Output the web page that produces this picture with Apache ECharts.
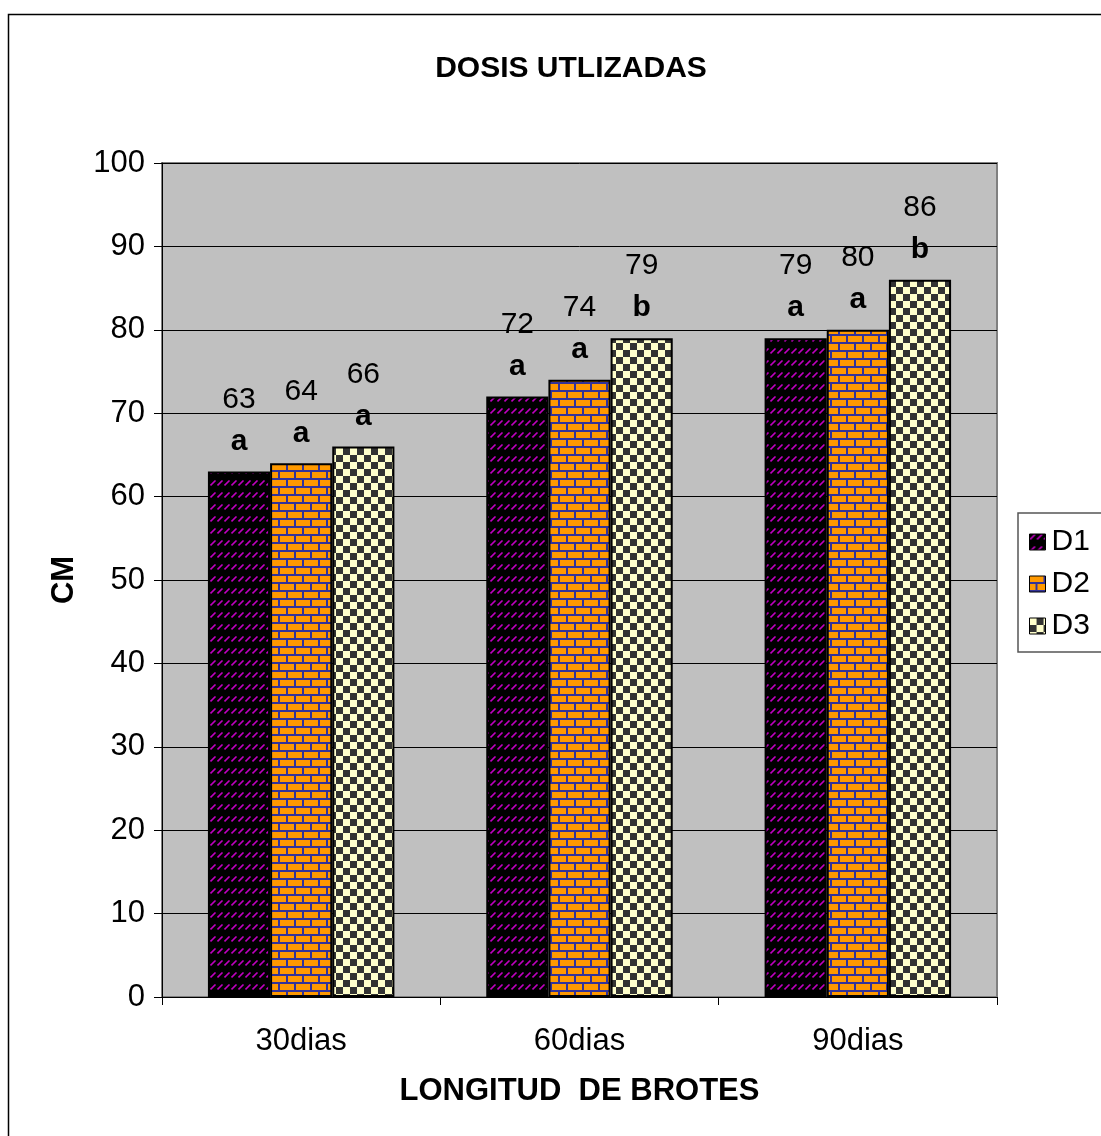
<!DOCTYPE html>
<html>
<head>
<meta charset="utf-8">
<title>DOSIS UTLIZADAS</title>
<script src="https://cdn.jsdelivr.net/npm/echarts@6/dist/echarts.min.js"></script>
<style>
  html, body { margin: 0; padding: 0; background: #ffffff; }
  #chart { width: 1101px; height: 1136px; }
</style>
</head>
<body>
<div id="chart"></div>
<script>
// Sprout length (cm) by dose and days after treatment
const categories = ['30dias', '60dias', '90dias'];
const seriesNames = ['D1', 'D2', 'D3'];
const d1Values = [63, 72, 79];
const d2Values = [64, 74, 80];
const d3Values = [66, 79, 86];
// Significance letters shown under each value
const d1Letters = ['a', 'a', 'a'];
const d2Letters = ['a', 'a', 'a'];
const d3Letters = ['a', 'b', 'b'];
const yTicks = { min: 0, max: 100, interval: 10 };

const FONT = '"Liberation Sans", Arial, sans-serif';

// Fill patterns drawn on small canvases
function makeTile(w, h, draw) {
  const c = document.createElement('canvas');
  c.width = w; c.height = h;
  draw(c.getContext('2d'), w, h);
  return c;
}
const dashTile = makeTile(7, 12, (g, w, h) => {
  g.fillStyle = '#000000';
  g.fillRect(0, 0, w, h);
  g.strokeStyle = '#c000c0';
  g.lineWidth = 1.6;
  g.beginPath();
  g.moveTo(0.5, 5.5);
  g.lineTo(5.5, 0.5);
  g.stroke();
});
const brickTile = makeTile(16, 16, (g, w, h) => {
  g.fillStyle = '#333399';
  g.fillRect(0, 0, w, h);
  g.fillStyle = '#ff9900';
  // upper row
  g.fillRect(0, 0, 14, 6);
  // lower row, offset by half a brick
  g.fillRect(0, 8, 6, 6);
  g.fillRect(8, 8, 8, 6);
});
const checkTile = makeTile(14, 14, (g, w, h) => {
  g.fillStyle = '#ffffcc';
  g.fillRect(0, 0, w, h);
  g.fillStyle = '#333333';
  g.fillRect(7, 0, 7, 7);
  g.fillRect(0, 7, 7, 7);
});
const fills = [
  { image: dashTile, repeat: 'repeat' },
  { image: brickTile, repeat: 'repeat' },
  { image: checkTile, repeat: 'repeat' }
];

const valueSets = [d1Values, d2Values, d3Values];
const letterSets = [d1Letters, d2Letters, d3Letters];

const series = seriesNames.map((name, si) => ({
  name: name,
  type: 'bar',
  barGap: '0%',
  barCategoryGap: '33%',
  data: valueSets[si].map((v, ci) => ({ value: v, letter: letterSets[si][ci] })),
  itemStyle: {
    color: fills[si],
    borderColor: '#000000',
    borderWidth: 2
  },
  label: {
    show: true,
    position: 'top',
    distance: 9,
    formatter: p => '{n|' + p.value + '}\n{l|' + p.data.letter + '}',
    rich: {
      n: { fontFamily: FONT, fontSize: 30, color: '#000000', lineHeight: 42, align: 'center' },
      l: { fontFamily: FONT, fontSize: 30, fontWeight: 'bold', color: '#000000', lineHeight: 42, align: 'center' }
    }
  }
}));

const chart = echarts.init(document.getElementById('chart'), null, { renderer: 'canvas' });
chart.setOption({
  animation: false,
  backgroundColor: '#ffffff',
  title: {
    text: 'DOSIS UTLIZADAS',
    left: 566,
    top: 49,
    textAlign: 'center',
    textStyle: { fontFamily: FONT, fontSize: 30, fontWeight: 'bold', color: '#000000' }
  },
  grid: {
    left: 162, right: 104, top: 163, bottom: 139,
    show: true,
    backgroundColor: '#c0c0c0',
    borderColor: '#808080',
    borderWidth: 2
  },
  legend: {
    orient: 'vertical',
    left: 1018,
    top: 513,
    data: seriesNames,
    backgroundColor: '#ffffff',
    borderColor: '#555555',
    borderWidth: 1.5,
    borderRadius: 0,
    padding: [14, 30, 11, 11],
    itemGap: 12,
    itemWidth: 16,
    itemHeight: 16,
    icon: 'rect',
    itemStyle: { borderColor: '#000000', borderWidth: 1 },
    textStyle: { fontFamily: FONT, fontSize: 30, color: '#000000', padding: [0, 0, 0, 1] }
  },
  xAxis: {
    type: 'category',
    data: categories,
    name: 'LONGITUD  DE BROTES',
    nameLocation: 'middle',
    nameGap: 79,
    nameTextStyle: { fontFamily: FONT, fontSize: 31, fontWeight: 'bold', color: '#000000' },
    axisLine: { show: true, lineStyle: { color: '#000000', width: 1 } },
    axisTick: { show: true, inside: false, length: 8, lineStyle: { color: '#000000' } },
    axisLabel: { fontFamily: FONT, fontSize: 31, color: '#000000', margin: 29 },
    splitLine: { show: false }
  },
  yAxis: {
    type: 'value',
    min: yTicks.min,
    max: yTicks.max,
    interval: yTicks.interval,
    name: 'CM',
    nameLocation: 'middle',
    nameGap: 82,
    nameTextStyle: { fontFamily: FONT, fontSize: 31, fontWeight: 'bold', color: '#000000' },
    axisLine: { show: true, lineStyle: { color: '#000000', width: 1 } },
    axisTick: { show: true, inside: false, length: 8, lineStyle: { color: '#000000' } },
    axisLabel: { fontFamily: FONT, fontSize: 31, color: '#000000', margin: 17 },
    splitLine: { show: true, lineStyle: { color: '#000000', width: 1 } }
  },
  series: series,
  graphic: [{
    type: 'rect',
    silent: true,
    z: -10,
    shape: { x: 8.5, y: 14.5, width: 1200, height: 1200 },
    style: { fill: 'none', stroke: '#000000', lineWidth: 1.5 }
  }]
});
</script>
</body>
</html>
